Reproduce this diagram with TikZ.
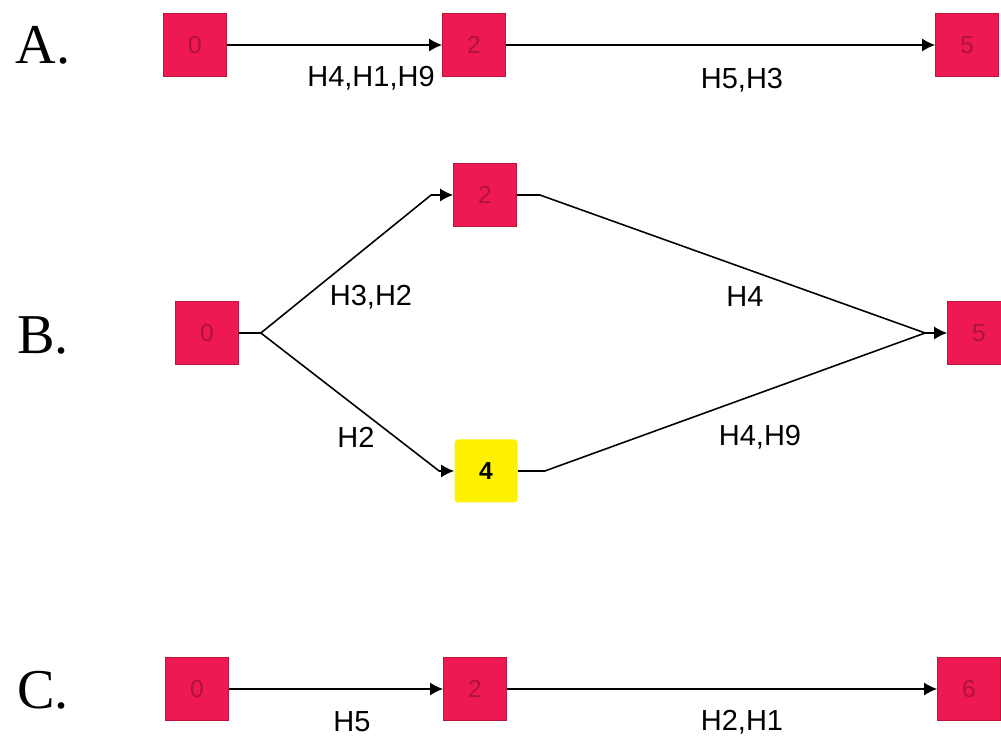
\documentclass[tikz,border=0pt]{standalone}
\usepackage{fontspec}
\setmainfont{Liberation Serif}
\setsansfont{Liberation Sans}
\usetikzlibrary{arrows.meta}
\definecolor{boxred}{RGB}{238,24,82}
\definecolor{boxedge}{RGB}{190,20,60}
\definecolor{boxyellow}{RGB}{255,242,0}
\begin{document}
\begin{tikzpicture}[
	state/.style = {rectangle, draw = boxedge, fill = boxred, minimum size = 1.26cm, inner sep = 0pt, font = \sffamily\fontsize{14}{16}\selectfont, text = boxedge!70!black!60!boxred},
	hit/.style = {rectangle, rounded corners = 2pt, fill = boxyellow, minimum size = 1.26cm, inner sep = 0pt, font = \sffamily\bfseries\fontsize{14}{16}\selectfont},
	edge/.style = {-{Latex[length=0.26cm,width=0.26cm]}, line width = 0.9pt},
	lbl/.style = {font = \sffamily\fontsize{16.5}{18}\selectfont},
	row/.style = {font = \fontsize{32}{34}\selectfont}]
	\useasboundingbox (0,0) rectangle (20.02,14.76);
	% row A
	\node (A) at (0.86,13.86) [row] {A.};
	\node (a0) at (3.9,13.86) [state] {0};
	\node (a2) at (9.48,13.86) [state] {2};
	\node (a5) at (19.34,13.86) [state] {5};
	\draw[edge] (a0) -- (a2);
	\draw[edge] (a2) -- (a5);
	\node (la1) at (7.42,13.2) [lbl] {H4,H1,H9};
	\node (la2) at (14.84,13.16) [lbl] {H5,H3};
	% row B
	\node (B) at (0.86,8.04) [row] {B.};
	\node (b0) at (4.14,8.1) [state] {0};
	\node (b2) at (9.7,10.86) [state] {2};
	\node (b4) at (9.72,5.34) [hit] {4};
	\node (b5) at (19.58,8.1) [state] {5};
	\draw[edge] (b0.east) -- ++(0.44,0) coordinate (fork) -- ([xshift=-0.44cm]b2.west) -- (b2.west);
	\draw[edge] (fork) -- ([xshift=-0.3cm]b4.west) -- (b4.west);
	\draw[edge] (b2.east) -- ++(0.46,0) -- ([xshift=-0.44cm]b5.west) coordinate (join) -- (b5.west);
	\draw[line width = 0.9pt] (b4.east) -- ++(0.54,0) -- (join);
	\node (lb1) at (7.42,8.82) [lbl] {H3,H2};
	\node (lb2) at (14.9,8.82) [lbl] {H4};
	\node (lb3) at (7.12,6.02) [lbl] {H2};
	\node (lb4) at (15.2,6.02) [lbl] {H4,H9};
	% row C
	\node (C) at (0.86,0.96) [row] {C.};
	\node (c0) at (3.94,0.98) [state] {0};
	\node (c2) at (9.5,0.98) [state] {2};
	\node (c6) at (19.38,0.98) [state] {6};
	\draw[edge] (c0) -- (c2);
	\draw[edge] (c2) -- (c6);
	\node (lc1) at (7.04,0.32) [lbl] {H5};
	\node (lc2) at (14.84,0.32) [lbl] {H2,H1};
\end{tikzpicture}
\end{document}
